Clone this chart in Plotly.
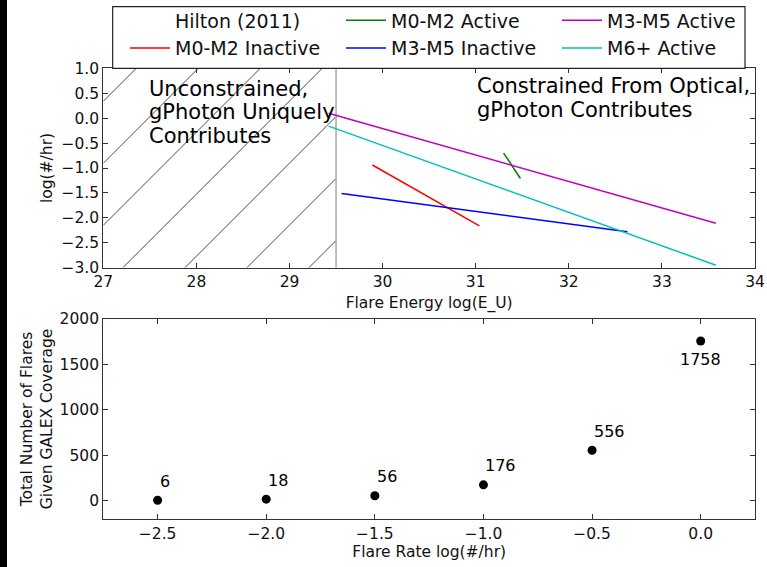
import plotly.graph_objects as go

# ---------------- data ----------------
# Top panel: flare frequency distributions (log rate vs log energy)
m0m2_inactive_x = [29.89, 31.04]
m0m2_inactive_y = [-0.94, -2.16]
m0m2_active_x = [31.30, 31.48]
m0m2_active_y = [-0.70, -1.21]
m3m5_inactive_x = [29.56, 32.63]
m3m5_inactive_y = [-1.51, -2.28]
m3m5_active_x = [29.42, 33.58]
m3m5_active_y = [0.10, -2.11]
m6_active_x = [29.42, 33.58]
m6_active_y = [-0.16, -2.95]

unconstrained_x = [27.0, 29.5]   # hatched region (energy)
energy_range = [27, 34]
rate_range = [-3, 1]

# Bottom panel
flare_rate = [-2.5, -2.0, -1.5, -1.0, -0.5, 0.0]
n_flares = [6, 18, 56, 176, 556, 1758]

FONT = "DejaVu Sans"
AX = "#333333"
W, H = 767, 567

# pixel geometry of the panels
top_px = (68.3, 267.7)
bot_px = (319.0, 519.0)
left_px, right_px = 103.3, 755.0

fig = go.Figure()

# ---- hatch lines ("/") for the unconstrained region ----
px_per_x = (right_px - left_px) / (energy_range[1] - energy_range[0])
px_per_y = (top_px[1] - top_px[0]) / (rate_range[1] - rate_range[0])
slope = px_per_x / px_per_y          # 45 degrees on screen
hatch_dx = 0.666                     # spacing of hatch lines along x
hatch_start = 27.21
hx, hy = [], []
b = hatch_start
while b - hatch_dx > unconstrained_x[0] - (rate_range[1] - rate_range[0]) / slope:
    b -= hatch_dx
while b < unconstrained_x[1]:
    x0 = max(b, unconstrained_x[0])
    y0 = rate_range[0] + slope * (x0 - b)
    x1 = min(b + (rate_range[1] - rate_range[0]) / slope, unconstrained_x[1])
    y1 = rate_range[0] + slope * (x1 - b)
    if y0 < rate_range[1]:
        hx += [x0, x1, None]
        hy += [y0, y1, None]
    b += hatch_dx
fig.add_trace(go.Scatter(x=hx, y=hy, mode="lines", line=dict(color="#333333", width=0.9),
                         showlegend=False, hoverinfo="skip", xaxis="x", yaxis="y"))
# boundary line
fig.add_trace(go.Scatter(
    x=[unconstrained_x[1], unconstrained_x[1]], y=rate_range, mode="lines",
    line=dict(color="#aaaaaa", width=1.5), showlegend=False, hoverinfo="skip",
    xaxis="x", yaxis="y"))

series = [
    ("Hilton (2011)", [None], [None], "rgba(0,0,0,0)", 1),
    ("M0-M2 Inactive", m0m2_inactive_x, m0m2_inactive_y, "#ff0000", 4),
    ("M0-M2 Active", m0m2_active_x, m0m2_active_y, "#008000", 2),
    ("M3-M5 Inactive", m3m5_inactive_x, m3m5_inactive_y, "#0000ff", 5),
    ("M3-M5 Active", m3m5_active_x, m3m5_active_y, "#bf00bf", 3),
    ("M6+ Active", m6_active_x, m6_active_y, "#00bfbf", 6),
]
for name, xs, ys, col, rank in series:
    fig.add_trace(go.Scatter(x=xs, y=ys, mode="lines", name=name,
                             line=dict(color=col, width=1.5), legendrank=rank,
                             xaxis="x", yaxis="y"))

# bottom scatter
fig.add_trace(go.Scatter(x=flare_rate, y=n_flares, mode="markers",
                         marker=dict(color="black", size=9), showlegend=False,
                         xaxis="x2", yaxis="y2"))

annotations = []
for xv, nv in zip(flare_rate, n_flares):
    if nv == max(n_flares):
        annotations.append(dict(x=xv, y=nv - 205, xref="x2", yref="y2", text=str(nv),
                                showarrow=False, xanchor="center", yanchor="middle",
                                font=dict(size=16, family=FONT, color="black")))
    else:
        annotations.append(dict(x=xv, y=nv + 210, xref="x2", yref="y2", text=str(nv),
                                showarrow=False, xanchor="left", yanchor="middle",
                                font=dict(size=16, family=FONT, color="black")))

left_text = ["Unconstrained,", "gPhoton Uniquely", "Contributes"]
left_y = [0.585, 0.115, -0.355]
for t, yv in zip(left_text, left_y):
    annotations.append(dict(x=27.47, y=yv, xref="x", yref="y", text=t, showarrow=False,
                            xanchor="left", yanchor="middle",
                            font=dict(size=21, family=FONT, color="black")))
right_text = ["Constrained From Optical,", "gPhoton Contributes"]
right_y = [0.64, 0.17]
for t, yv in zip(right_text, right_y):
    annotations.append(dict(x=30.99, y=yv, xref="x", yref="y", text=t, showarrow=False,
                            xanchor="left", yanchor="middle",
                            font=dict(size=21, family=FONT, color="black")))

xdom = [left_px / W, right_px / W]

def ax(**kw):
    d = dict(showline=True, linecolor=AX, linewidth=1.3, mirror="allticks",
             ticks="inside", ticklen=5, tickcolor=AX, tickwidth=1,
             showgrid=False, zeroline=False, automargin=False,
             tickfont=dict(size=15.5, family=FONT, color="#111111"),
             title_font=dict(size=15.5, family=FONT, color="#111111"))
    d.update(kw)
    return d

fig.update_layout(
    width=W, height=H, margin=dict(l=0, r=0, t=0, b=0, autoexpand=False),
    paper_bgcolor="white", plot_bgcolor="white",
    font=dict(family=FONT, color="#111111"),
    xaxis=ax(domain=xdom, anchor="y", range=energy_range, dtick=1, tick0=27,
             title=dict(text="Flare Energy log(E_U)", standoff=6)),
    yaxis=ax(domain=[1 - top_px[1] / H, 1 - top_px[0] / H], anchor="x", range=rate_range,
             dtick=0.5, tickformat=".1f", title=dict(text="log(#/hr)", standoff=4)),
    xaxis2=ax(domain=xdom, anchor="y2", range=[-2.75, 0.25], dtick=0.5, tick0=0,
              tickformat=".1f", title=dict(text="Flare Rate log(#/hr)", standoff=0)),
    yaxis2=ax(domain=[1 - bot_px[1] / H, 1 - bot_px[0] / H], anchor="x2", range=[-200, 2000],
              dtick=500, tick0=0,
              title=dict(text="Total Number of Flares<br>Given GALEX Coverage", standoff=3)),
    legend=dict(orientation="h", x=125 / W, xanchor="left", y=1 - 1.5 / H, yanchor="top",
                borderwidth=0, bgcolor="rgba(0,0,0,0)",
                font=dict(size=19, family=FONT, color="#111111"),
                entrywidth=161, entrywidthmode="pixels", itemwidth=40, traceorder="normal"),
    annotations=annotations,
    shapes=[
        dict(type="rect", xref="paper", yref="paper", x0=0, x1=7 / W, y0=0, y1=1,
             fillcolor="black", line=dict(width=0), layer="above"),
        dict(type="rect", xref="paper", yref="paper", x0=112.7 / W, x1=745 / W,
             y0=1 - 68.3 / H, y1=1 - 6.7 / H, fillcolor="white",
             line=dict(color="#222222", width=1.2), layer="above"),
    ],
    showlegend=True,
)

fig.write_html("out.html", config={"displayModeBar": False},
               post_script="document.body.style.margin='0px';")
